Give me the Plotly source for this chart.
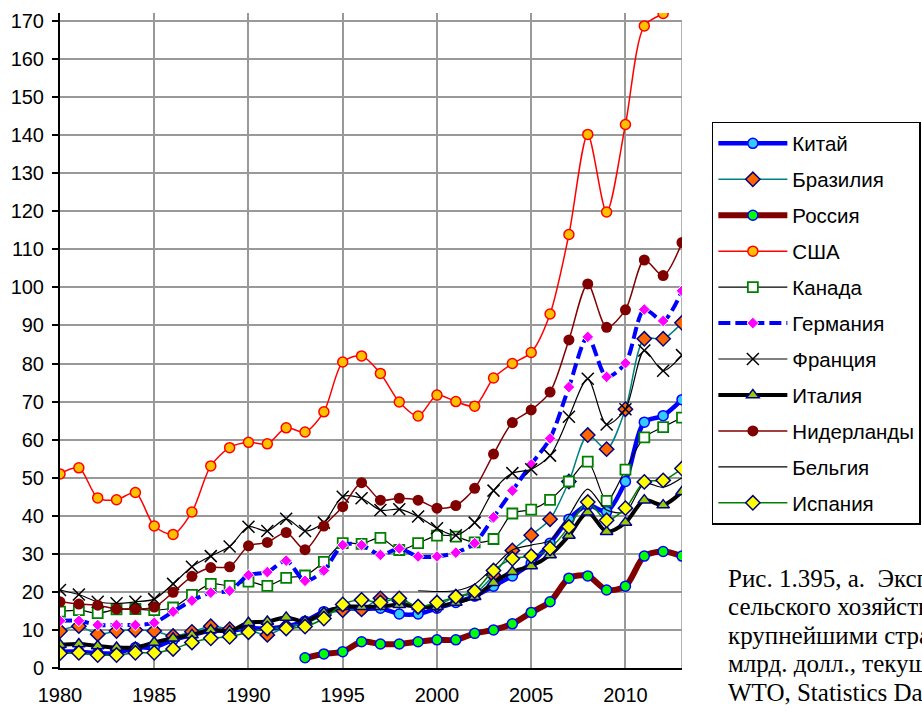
import plotly.graph_objects as go

years = list(range(1980, 2014))

china = [4.3, 4.3, 3.9, 3.9, 5.4, 5.4, 7.4, 8.7, 9.8, 9.8, 10.4, 10.4, 10.9, 12.3, 14.8, 15.7, 15.4,
         15.7, 14.2, 14.2, 15.7, 17.2, 18.9, 21.5, 24.2, 27.5, 32.8, 39.1, 42.8, 41.1, 49.0, 64.6,
         66.3, 70.5]
brazil = [9.7, 11.0, 8.9, 9.7, 10.0, 9.7, 8.4, 9.5, 11.0, 10.2, 10.0, 8.7, 10.9, 11.7, 13.9, 15.2,
          15.4, 18.3, 17.7, 16.1, 16.5, 18.7, 19.6, 24.4, 30.9, 34.9, 39.1, 49.0, 61.2, 57.5, 68.0,
          86.5, 86.5, 90.7]
russia = [None] * 13 + [2.7, 3.7, 4.3, 6.9, 6.3, 6.3, 6.9, 7.4, 7.4, 9.1, 10.0, 11.6, 14.6, 17.4,
                        23.6, 24.2, 20.5, 21.5, 29.4, 30.6, 29.4]
usa = [51.0, 52.6, 44.7, 44.2, 46.1, 37.3, 35.1, 41.0, 53.1, 57.9, 59.3, 58.9, 63.1, 62.0, 67.3,
       80.4, 82.0, 77.4, 69.9, 66.2, 71.7, 70.0, 68.8, 76.2, 80.0, 82.9, 93.0, 113.9, 140.2, 119.8,
       142.8, 168.7, 172.0, 175.0]
canada = [14.8, 15.2, 14.4, 15.4, 15.5, 15.2, 15.9, 19.2, 22.1, 21.6, 22.7, 21.6, 23.7, 24.3, 27.9,
          32.8, 32.6, 34.2, 31.0, 32.8, 34.8, 34.5, 33.0, 33.9, 40.6, 41.6, 44.2, 49.0, 54.2, 43.9,
          52.1, 60.6, 63.3, 65.8]
germany = [12.4, 12.4, 11.3, 11.3, 11.3, 11.9, 14.8, 17.7, 19.8, 20.3, 24.4, 25.2, 28.2, 22.9, 25.6,
           32.3, 32.3, 29.7, 31.4, 29.3, 29.3, 30.3, 32.8, 39.6, 46.6, 53.5, 60.3, 73.8, 87.0, 76.5,
           80.1, 94.2, 91.2, 99.1]
france = [20.5, 19.3, 17.4, 17.0, 17.4, 18.1, 22.1, 26.6, 29.4, 31.9, 37.1, 36.0, 39.2, 36.0, 38.2,
          45.0, 44.6, 41.5, 41.7, 39.8, 36.7, 34.9, 38.2, 46.6, 51.2, 52.2, 55.8, 66.0, 76.0, 64.0,
          68.0, 83.4, 78.1, 82.2]
italy = [6.1, 6.3, 5.8, 5.4, 5.4, 6.7, 7.8, 8.7, 10.0, 9.7, 11.9, 12.2, 13.3, 12.2, 14.5, 16.1, 16.1,
         16.1, 16.6, 16.1, 16.1, 17.2, 18.7, 22.4, 25.3, 26.8, 29.7, 34.8, 40.9, 35.8, 38.2, 44.1,
         42.8, 46.3]
netherlands = [17.4, 16.8, 16.5, 15.5, 15.5, 16.0, 19.9, 24.1, 26.4, 26.6, 32.1, 33.0, 35.6, 31.1,
               37.3, 42.4, 48.7, 44.1, 44.6, 44.1, 42.0, 42.7, 47.2, 56.2, 64.5, 67.8, 72.5, 86.2,
               100.9, 89.5, 94.1, 107.2, 103.1, 111.8]
belgium = [None] * 19 + [20.3, 20.1, 20.3, 22.0, 26.5, 31.0, 32.3, 33.5, 40.0, 47.0, 41.5, 41.0,
                         48.5, 47.5, 50.0]
spain = [3.9, 4.0, 3.4, 3.4, 4.0, 4.0, 5.0, 6.7, 7.8, 8.2, 9.4, 10.4, 10.4, 10.9, 13.0, 16.7, 17.9,
         17.2, 18.3, 16.1, 17.2, 18.7, 20.2, 25.6, 28.7, 29.4, 31.4, 37.1, 43.6, 38.8, 42.0, 48.9,
         49.3, 52.4]

x_ticks = [1980, 1985, 1990, 1995, 2000, 2005, 2010]
y_ticks = list(range(0, 171, 10))

caption_lines = [
    "Рис. 1.395, а.\u00a0 Экспорт продукции",
    "сельского хозяйства",
    "крупнейшими странами,",
    "млрд. долл., текущие цены.",
    "WTO, Statistics Database",
]

series = [
    ("Китай", china, dict(color="#0000FF", width=4.5), dict(symbol="circle", size=10, color="#33CCFF", line=dict(color="#0000FF", width=1.5))),
    ("Бразилия", brazil, dict(color="#008080", width=1.5), dict(symbol="diamond", size=11, color="#FF6600", line=dict(color="#000080", width=1.5))),
    ("Россия", russia, dict(color="#800000", width=6), dict(symbol="circle", size=10, color="#00FF00", line=dict(color="#0000FF", width=1.5))),
    ("США", usa, dict(color="#FF0000", width=1.5), dict(symbol="circle", size=10, color="#FFC000", line=dict(color="#FF0000", width=1.5))),
    ("Канада", canada, dict(color="#000000", width=1.2), dict(symbol="square", size=10, color="#FFFFFF", line=dict(color="#008000", width=1.8))),
    ("Германия", germany, dict(color="#0000FF", width=4, dash="12px,5px"), dict(symbol="diamond", size=9, color="#FF00FF", line=dict(color="#FFFFFF", width=1))),
    ("Франция", france, dict(color="#000000", width=1.2), dict(symbol="x-thin-open", size=12, color="#000000", line=dict(color="#000000", width=1.5))),
    ("Италия", italy, dict(color="#000000", width=4), dict(symbol="triangle-up", size=11, color="#99CC00", line=dict(color="#000080", width=1.5))),
    ("Нидерланды", netherlands, dict(color="#800000", width=1.5), dict(symbol="circle", size=11, color="#800000", line=dict(color="#800000", width=0))),
    ("Бельгия", belgium, dict(color="#000000", width=1.2), None),
    ("Испания", spain, dict(color="#008000", width=1.5), dict(symbol="diamond", size=11, color="#FFFF00", line=dict(color="#000080", width=1.5))),
]

fig = go.Figure()
for name, vals, line, marker in series:
    line = dict(line, shape="spline", smoothing=0.8)
    if marker is None:
        fig.add_trace(go.Scatter(x=years, y=vals, name=name, mode="lines", line=line,
                                 legendgroup=name, connectgaps=False))
    else:
        fig.add_trace(go.Scatter(x=years, y=vals, name=name, mode="lines+markers", line=line,
                                 marker=marker, legendgroup=name, connectgaps=False))

fig.add_shape(type="line", xref="x", yref="y", x0=2013, x1=2013, y0=0, y1=170,
              line=dict(color="#999999", width=1.5), layer="below")

# caption lines, 28.5 px apart; plot area is 655 px tall
first_line_px = 578  # centre of first line, from top of figure
for i, txt in enumerate(caption_lines):
    ypx = first_line_px + i * 28.5
    fig.add_annotation(text=txt, xref="paper", yref="paper", x=1.07, y=(668 - ypx) / 655,
                       xanchor="left", yanchor="middle", align="left", showarrow=False,
                       font=dict(family="Liberation Serif", size=25, color="#000000"))

fig.update_layout(
    width=922, height=715,
    margin=dict(l=60, r=240, t=13, b=47, autoexpand=False),
    paper_bgcolor="white", plot_bgcolor="white",
    font=dict(family="Liberation Sans, Arial", size=20, color="#000000"),
    showlegend=True,
    legend=dict(x=1.048, y=0.8336, xanchor="left", yanchor="top", bordercolor="#000000",
                borderwidth=1.5, bgcolor="white", tracegroupgap=6.3, itemwidth=69,
                font=dict(family="Liberation Sans, Arial", size=20.5, color="#000000")),
    xaxis=dict(range=[1980, 2013], tickvals=x_ticks, ticktext=[str(t) for t in x_ticks],
               showgrid=True, gridcolor="#999999", gridwidth=1.5, zeroline=False,
               showline=True, linecolor="#000000", linewidth=2, ticks="", ticklen=0,
               ticklabelstandoff=8, tickfont=dict(size=20)),
    yaxis=dict(range=[0, 172.1], tickvals=y_ticks, ticktext=[str(t) for t in y_ticks],
               showgrid=True, gridcolor="#999999", gridwidth=1.5, zeroline=False,
               showline=True, linecolor="#000000", linewidth=2, ticks="outside", ticklen=6,
               tickcolor="#000000", tickwidth=1.5, ticklabelstandoff=4, tickfont=dict(size=20)),
)

fig.write_html("out.html", config={"displayModeBar": False},
               post_script="document.body.style.margin='0';")
